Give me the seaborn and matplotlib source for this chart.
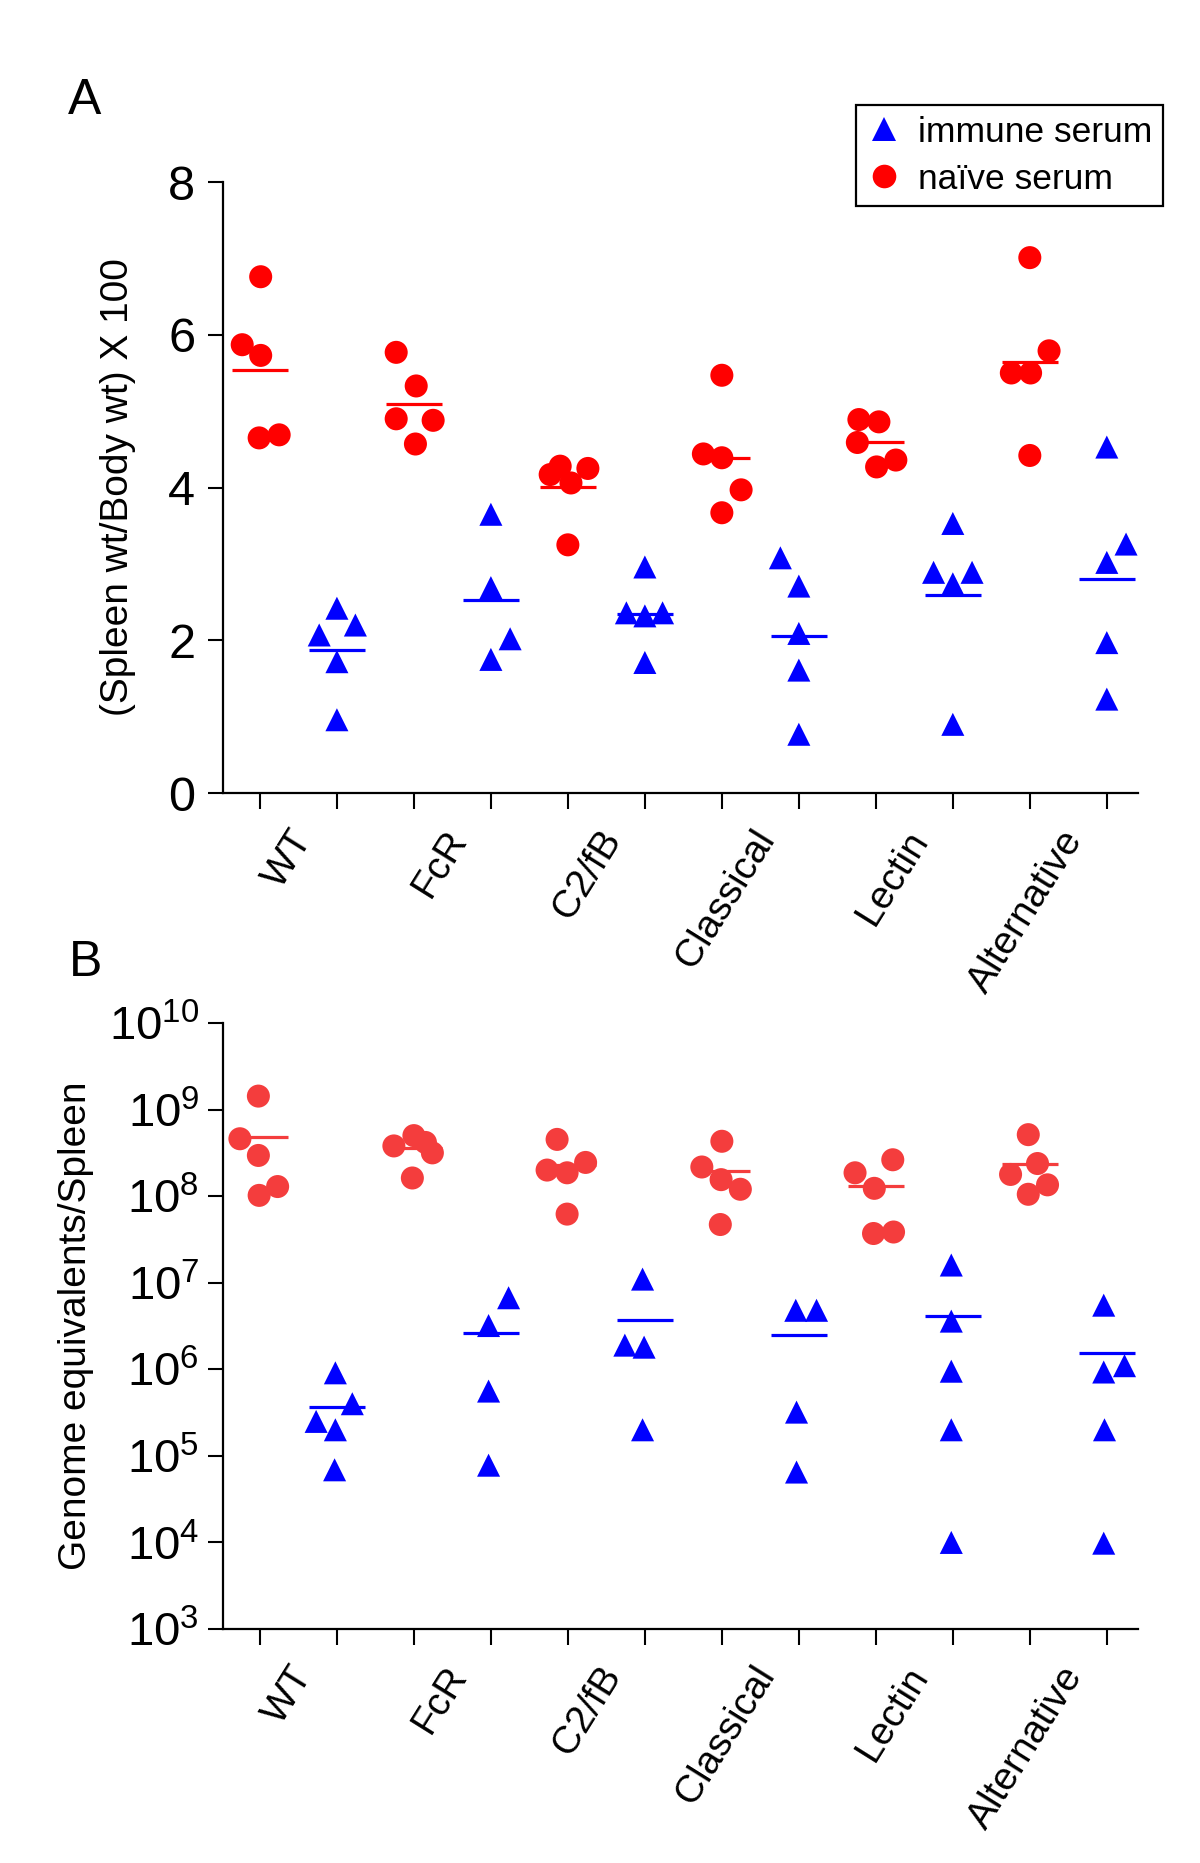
import numpy as np
import pandas as pd
import matplotlib
matplotlib.use("Agg")
import matplotlib.pyplot as plt
import matplotlib.transforms as mtransforms
from matplotlib.lines import Line2D
from matplotlib.ticker import FixedLocator, NullLocator, FixedFormatter
import seaborn as sns

# ---------------- data ----------------
categories = ["WT", "FcR", "C2/fB", "Classical", "Lectin", "Alternative"]

# Panel A: (Spleen wt / Body wt) x 100
spleen_naive = [
    [6.76, 5.87, 5.73, 4.65, 4.69],
    [5.77, 5.33, 4.90, 4.88, 4.57],
    [4.17, 4.28, 4.06, 4.25, 3.25],
    [5.47, 4.44, 4.39, 3.97, 3.67],
    [4.89, 4.86, 4.59, 4.27, 4.36],
    [7.01, 5.79, 5.50, 5.50, 4.42],
]
spleen_immune = [
    [2.42, 2.07, 2.20, 1.72, 0.96],
    [3.65, 2.69, 2.02, 1.75],
    [2.96, 2.36, 2.32, 2.36, 1.71],
    [3.08, 2.71, 2.09, 1.61, 0.77],
    [3.53, 2.89, 2.89, 2.74, 0.90],
    [4.53, 3.26, 3.02, 1.97, 1.23],
]

# Panel B: genome equivalents / spleen
genome_naive = [
    [1.43e9, 4.6e8, 2.95e8, 1.29e8, 1.02e8],
    [3.8e8, 5.0e8, 4.17e8, 3.16e8, 1.62e8],
    [4.52e8, 2.0e8, 1.86e8, 2.45e8, 6.2e7],
    [4.3e8, 2.17e8, 1.55e8, 1.2e8, 4.7e7],
    [2.63e8, 1.86e8, 1.23e8, 3.7e7, 3.85e7],
    [5.13e8, 2.38e8, 1.78e8, 1.35e8, 1.05e8],
]
genome_immune = [
    [9.1e5, 4.0e5, 2.5e5, 2.0e5, 6.9e4],
    [6.7e6, 3.2e6, 5.6e5, 7.8e4],
    [1.1e7, 1.9e6, 1.8e6, 2.0e5],
    [4.8e6, 4.8e6, 3.2e5, 6.5e4],
    [1.6e7, 3.6e6, 9.5e5, 2.0e5, 1.0e4],
    [5.5e6, 1.1e6, 9.3e5, 2.0e5, 9.8e3],
]

# ---------------- point spread (layout, tick units) ----------------
spread_A_naive = [
    [0.01, -0.23, 0.01, -0.01, 0.25],
    [-0.23, 0.03, -0.23, 0.25, 0.02],
    [-0.23, -0.10, 0.04, 0.26, 0.0],
    [0.0, -0.24, 0.0, 0.25, 0.0],
    [-0.22, 0.04, -0.24, 0.01, 0.26],
    [0.0, 0.25, -0.24, 0.01, 0.0],
]
spread_A_immune = [
    [0.0, -0.23, 0.24, 0.0, 0.0],
    [0.0, 0.0, 0.25, 0.0],
    [0.0, -0.24, 0.0, 0.23, 0.0],
    [-0.24, 0.0, 0.0, 0.0, 0.0],
    [0.0, -0.25, 0.25, 0.0, 0.0],
    [0.0, 0.25, 0.0, 0.0, 0.0],
]
spread_B_naive = [
    [-0.02, -0.26, -0.02, 0.23, -0.01],
    [-0.26, 0.0, 0.15, 0.24, -0.02],
    [-0.14, -0.27, -0.01, 0.23, -0.01],
    [0.0, -0.26, -0.01, 0.24, -0.02],
    [0.22, -0.27, -0.02, -0.03, 0.23],
    [-0.02, 0.10, -0.25, 0.23, -0.02],
]
spread_B_immune = [
    [-0.02, 0.20, -0.27, -0.02, -0.03],
    [0.23, -0.03, -0.03, -0.03],
    [-0.03, -0.26, -0.01, -0.03],
    [-0.04, 0.23, -0.03, -0.03],
    [-0.02, -0.02, -0.02, -0.02, -0.02],
    [-0.04, 0.23, -0.04, -0.03, -0.04],
]

# ---------------- style ----------------
sns.set_style("ticks")
plt.rcParams["font.family"] = ["Liberation Sans", "DejaVu Sans"]
plt.rcParams["mathtext.fontset"] = "custom"
plt.rcParams["mathtext.rm"] = "Liberation Sans"
plt.rcParams["mathtext.it"] = "Liberation Sans:italic"
plt.rcParams["mathtext.bf"] = "Liberation Sans:bold"
for key in ("text.color", "axes.labelcolor", "xtick.color", "ytick.color",
            "axes.edgecolor"):
    plt.rcParams[key] = "black"

BLUE = "#0000FF"
RED_A = "#FF0000"
RED_B = "#F43D3D"
NAIVE = "naïve serum"
IMMUNE = "immune serum"

fig = plt.figure(figsize=(12, 18.63), dpi=100)
axA = fig.add_axes([0.1858, 0.5743, 0.7622, 0.3280])
axB = fig.add_axes([0.1858, 0.1256, 0.7622, 0.3253])


def draw_panel(ax, naive, immune, sp_naive, sp_immune, red):
    rows = []
    for i in range(len(categories)):
        for v, o in zip(naive[i], sp_naive[i]):
            rows.append((2 * i + o, v, NAIVE))
        for v, o in zip(immune[i], sp_immune[i]):
            rows.append((2 * i + 1 + o, v, IMMUNE))
    df = pd.DataFrame(rows, columns=["x", "y", "serum"])
    for i in range(len(categories)):
        ax.hlines(np.mean(naive[i]), 2 * i - 0.36, 2 * i + 0.36,
                  color=red, lw=2.3, zorder=1.5)
        ax.hlines(np.mean(immune[i]), 2 * i + 1 - 0.36, 2 * i + 1 + 0.36,
                  color=BLUE, lw=2.3, zorder=1.5)
    sns.scatterplot(data=df, x="x", y="y", hue="serum", style="serum",
                    markers={NAIVE: "o", IMMUNE: "^"},
                    palette={NAIVE: red, IMMUNE: BLUE},
                    s=275, linewidth=0, edgecolor="none",
                    legend=False, ax=ax, zorder=3)
    ax.set_xlabel("")
    ax.set_xlim(-0.48, 11.4)
    sns.despine(ax=ax)
    for sp in ("left", "bottom"):
        ax.spines[sp].set_linewidth(1.6)
        ax.spines[sp].set_color("black")
    ax.xaxis.set_major_locator(FixedLocator(np.arange(12)))
    ax.xaxis.set_major_formatter(FixedFormatter([""] * 12))
    ax.xaxis.set_minor_locator(FixedLocator(np.arange(6) * 2 + 0.5 + 0.08))
    ax.xaxis.set_minor_formatter(FixedFormatter(categories))
    ax.tick_params(axis="x", which="major", direction="out", length=11.5,
                   width=1.5, color="black")
    ax.tick_params(axis="x", which="minor", length=0, pad=29, labelsize=28,
                   labelcolor="black")
    for lab in ax.xaxis.get_minorticklabels():
        lab.set_rotation(58)
        lab.set_ha("right")
        lab.set_va("center")
        lab.set_rotation_mode("anchor")
    ax.tick_params(axis="y", which="major", direction="out", length=11,
                   width=1.5, color="black", labelcolor="black")
    ax.tick_params(axis="y", which="minor", length=0)


draw_panel(axA, spleen_naive, spleen_immune, spread_A_naive, spread_A_immune, RED_A)
draw_panel(axB, genome_naive, genome_immune, spread_B_naive, spread_B_immune, RED_B)

# Panel A y axis
axA.set_ylim(0, 8)
axA.set_yticks([0, 2, 4, 6, 8])
axA.tick_params(axis="y", labelsize=35, pad=9)
axA.set_ylabel("(Spleen wt/Body wt) X 100", fontsize=28, color="black")
axA.yaxis.set_label_coords(0.113, 0.5,
                           transform=mtransforms.blended_transform_factory(fig.transFigure, axA.transAxes))

# Panel B y axis (log)
axB.set_yscale("log")
axB.set_ylim(1e3, 1e10)
exps = list(range(3, 11))
axB.yaxis.set_major_locator(FixedLocator([10.0 ** e for e in exps]))
axB.yaxis.set_major_formatter(FixedFormatter([r"$\mathdefault{10^{%d}}$" % e for e in exps]))
axB.yaxis.set_minor_locator(NullLocator())
axB.tick_params(axis="y", labelsize=34, pad=6)
axB.set_ylabel("Genome equivalents/Spleen", fontsize=28, color="black")
axB.yaxis.set_label_coords(0.078, 0.5,
                           transform=mtransforms.blended_transform_factory(fig.transFigure, axB.transAxes))

# Legend
handles = [
    Line2D([], [], marker="^", color=BLUE, linestyle="none", markersize=17.5, markeredgewidth=0),
    Line2D([], [], marker="o", color=RED_A, linestyle="none", markersize=17, markeredgewidth=0),
]
leg = axA.legend(handles, [IMMUNE, NAIVE], loc="upper right",
                 bbox_to_anchor=(0.969, 0.9436), bbox_transform=fig.transFigure,
                 fontsize=25.5, frameon=True, fancybox=False, borderpad=0.3,
                 labelspacing=0.4, handlelength=1.0, handletextpad=0.45,
                 borderaxespad=0)
leg.get_frame().set_edgecolor("black")
leg.get_frame().set_linewidth(1.6)
leg.get_frame().set_alpha(1)

# Panel letters
fig.text(68 / 1200, 1 - 78 / 1863, "A", fontsize=36, ha="left", va="top")
fig.text(69 / 1200, 1 - 940 / 1863, "B", fontsize=36, ha="left", va="top")

fig.savefig("out.png", dpi=100)
